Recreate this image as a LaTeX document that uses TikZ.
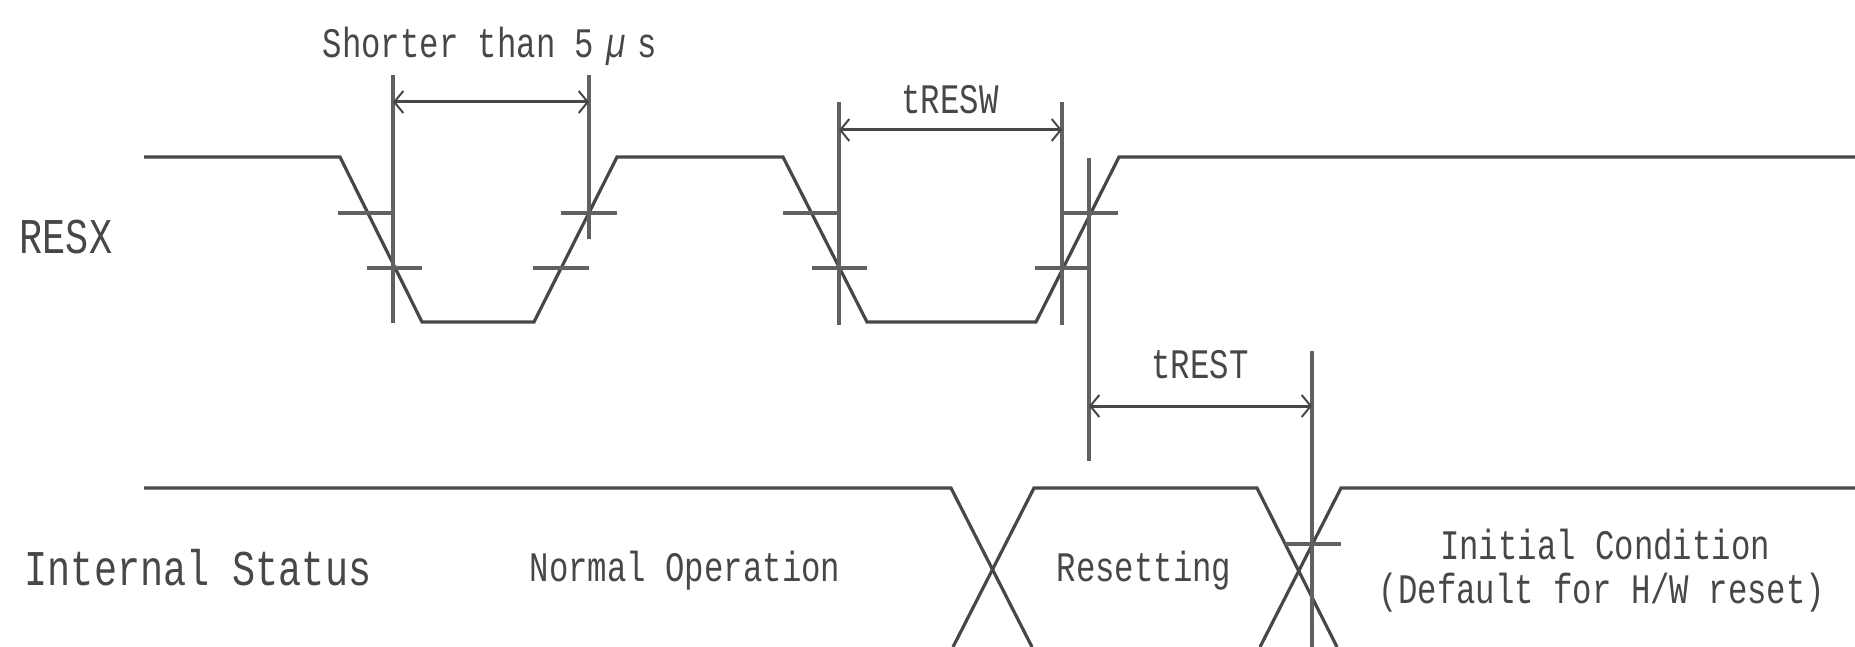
\documentclass[tikz,border=0pt]{standalone}
\usepackage{fontspec}
\newfontfamily\gothic[FakeStretch=0.77]{Liberation Mono}
\usetikzlibrary{arrows.meta}
\tikzset{
    lbl/.style={inner sep=0pt,text=black!72,font=\gothic\fontsize{42}{50}\selectfont},
    biglbl/.style={lbl,font=\gothic\fontsize{50}{60}\selectfont},
    sig/.style={line width=3.2pt,draw=black!72},
    guide/.style={line width=3.2pt,draw=black!62},
    dim/.style={line width=3pt,draw=black!72,{Straight Barb[length=9pt,width=22pt,line width=2pt]}-{Straight Barb[length=9pt,width=22pt,line width=2pt]}}
}
\begin{document}
\begin{tikzpicture}[x=1pt,y=-1pt]
        \useasboundingbox (0,0) rectangle (1855,647);
        % labels
        \node[biglbl] (RESX) at (66,237) {RESX};
        \node[biglbl] (status) at (198,568) {Internal Status};
        \node[lbl] (short) at (490,46) {Shorter than 5\hspace{12pt}\textit{µ}\hspace{12pt}s};
        \node[lbl] (tRESW) at (950,100) {tRESW};
        \node[lbl] (tREST) at (1200,365) {tREST};
        \node[lbl] (normal) at (685,571) {Normal Operation};
        \node[lbl] (resetting) at (1144,571) {Resetting};
        \node[lbl] (initial) at (1605,545) {Initial Condition};
        \node[lbl] (default) at (1602,593) {(Default for H/W reset)};
        % waveforms
        \draw[sig] (144,157) -- (340,157) -- (422,322) -- (534,322) -- (617,157) -- (783,157) -- (867,322) -- (1036,322) -- (1119,157) -- (1855,157);
        \draw[sig] (144,488) -- (951,488) -- (1032,647);
        \draw[sig] (953,647) -- (1034,488) -- (1257,488) -- (1337,647);
        \draw[sig] (1260,647) -- (1341,488) -- (1855,488);
        % levels
        \draw[guide] (338,213) -- (393,213);
        \draw[guide] (367,268) -- (422,268);
        \draw[guide] (561,213) -- (617,213);
        \draw[guide] (533,268) -- (589,268);
        \draw[guide] (783,213) -- (839,213);
        \draw[guide] (812,268) -- (867,268);
        \draw[guide] (1062,213) -- (1118,213);
        \draw[guide] (1035,268) -- (1089,268);
        \draw[guide] (1285,544) -- (1341,544);
        % extension lines
        \coordinate (a1) at (393,75);
        \coordinate (a2) at (393,323);
        \coordinate (b1) at (589,75);
        \coordinate (b2) at (589,239);
        \coordinate (c1) at (839,102);
        \coordinate (c2) at (839,325);
        \coordinate (d1) at (1062,102);
        \coordinate (d2) at (1062,325);
        \coordinate (e1) at (1089,158);
        \coordinate (e2) at (1089,461);
        \coordinate (f1) at (1312,351);
        \coordinate (f2) at (1312,647);
        \draw[guide] (a1) -- (a2);
        \draw[guide] (b1) -- (b2);
        \draw[guide] (c1) -- (c2);
        \draw[guide] (d1) -- (d2);
        \draw[guide] (e1) -- (e2);
        \draw[guide] (f1) -- (f2);
        % spans
        \coordinate (sa) at (393,102);
        \coordinate (sb) at (589,102);
        \coordinate (sc) at (839,130);
        \coordinate (sd) at (1062,130);
        \coordinate (se) at (1089,406);
        \coordinate (sf) at (1312,406);
        \draw[dim] (sa) -- (sb);
        \draw[dim] (sc) -- (sd);
        \draw[dim] (se) -- (sf);
    \end{tikzpicture}
\end{document}
